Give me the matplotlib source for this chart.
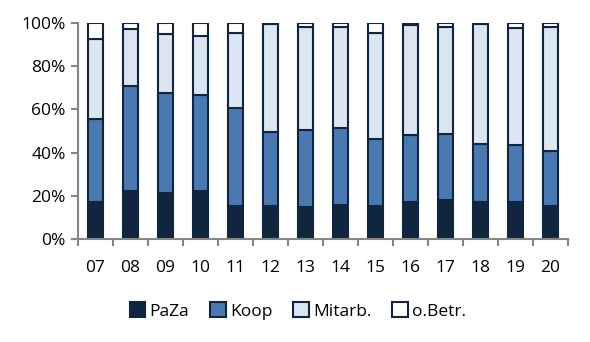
import matplotlib
matplotlib.use("Agg")
import matplotlib.pyplot as plt
import numpy as np
from matplotlib.ticker import FixedLocator, FuncFormatter

years = ["07", "08", "09", "10", "11", "12", "13", "14", "15", "16", "17", "18", "19", "20"]
paza = [17.3, 22.0, 21.2, 22.0, 15.5, 15.5, 15.0, 15.9, 15.5, 17.3, 18.0, 17.3, 16.9, 15.5]
koop = [38.2, 48.8, 46.2, 44.7, 45.1, 33.9, 35.4, 35.4, 30.7, 30.7, 30.5, 26.5, 26.5, 25.1]
mitarb = [37.2, 26.2, 27.4, 27.4, 34.9, 50.3, 47.9, 47.0, 49.3, 51.0, 49.8, 55.9, 54.4, 57.7]
obetr = [7.3, 3.0, 5.2, 5.9, 4.5, 0.3, 1.7, 1.7, 4.5, 1.0, 1.7, 0.3, 2.2, 1.7]
series = ["PaZa", "Koop", "Mitarb.", "o.Betr."]
colors = ["#11253F", "#4A78B0", "#DCE6F2", "#FFFFFF"]
edge = "#11253F"

plt.rcParams['font.family'] = ['Open Sans', 'DejaVu Sans']
fig = plt.figure(figsize=(5.9, 3.42), dpi=100)
ax = fig.add_axes([78/590, 1-239/342, 490/590, 216/342])

x = np.arange(len(years))
bottom = np.zeros(len(years))
for name, vals, c in zip(series, [paza, koop, mitarb, obetr], colors):
    v = np.array(vals)
    ax.bar(x, v, 0.43, bottom=bottom, color=c, edgecolor=edge, linewidth=1.5, label=name)
    bottom += v

ax.set_xlim(-0.5, len(years) - 0.5)
ax.set_ylim(0, 100)
ax.yaxis.set_major_locator(FixedLocator([0, 20, 40, 60, 80, 100]))
ax.yaxis.set_major_formatter(FuncFormatter(lambda v, p: f"{int(v)}%"))
ax.set_xticks(x)
ax.set_xticklabels(years)
ax.xaxis.set_minor_locator(FixedLocator(np.arange(-0.5, len(years), 1.0)))
ax.tick_params(axis='x', which='major', length=0, pad=15, labelsize=12.5, colors='black')
ax.tick_params(axis='x', which='minor', length=5, width=1.5, color='#868686')
ax.tick_params(axis='y', length=5, width=1.5, color='#868686', labelsize=12.5, pad=4)
for s in ['top', 'right']:
    ax.spines[s].set_visible(False)
for s in ['left', 'bottom']:
    ax.spines[s].set_color('#868686')
    ax.spines[s].set_linewidth(1.5)

handles, labels = ax.get_legend_handles_labels()
fig.legend(handles, labels, loc='center', bbox_to_anchor=(298/590, 1-311/342), ncol=4,
           frameon=False, fontsize=12.5, handlelength=0.9, handleheight=0.9,
           handletextpad=0.25, columnspacing=1.2)

fig.savefig("out.png", dpi=100)
